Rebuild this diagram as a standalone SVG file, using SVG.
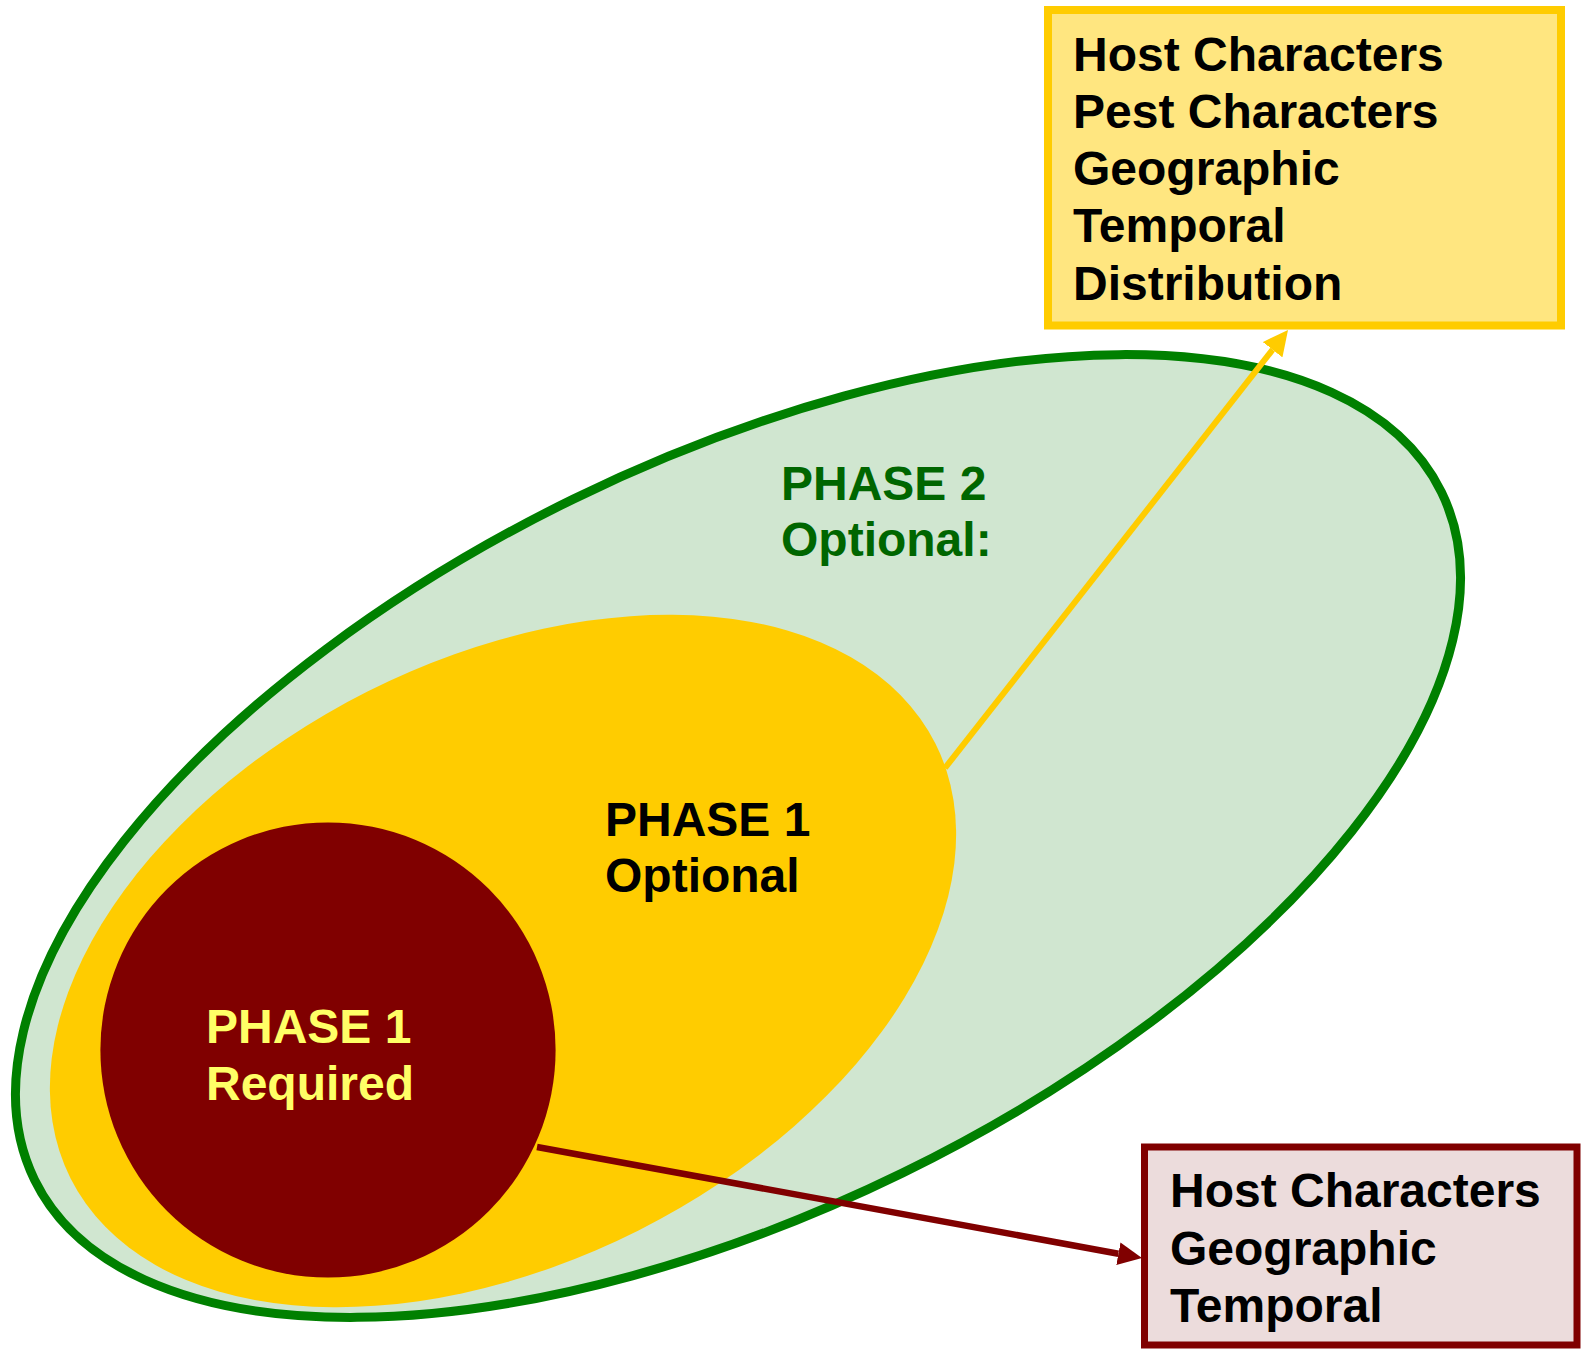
<svg xmlns="http://www.w3.org/2000/svg" width="1590" height="1350" viewBox="0 0 1590 1350">
<style>
.t{font-family:"Liberation Sans",Arial,sans-serif;font-weight:bold;font-size:48px}
.blk{fill:#000}
.grn{fill:#006600}
.ylw{fill:#FFFF66}
</style>
<defs>
<marker id="ahY" markerUnits="userSpaceOnUse" viewBox="0 0 25 25" refX="0" refY="12.5" markerWidth="25" markerHeight="25" orient="auto">
<path d="M0,0 L25,12.5 L0,25 z" fill="#FFCC00"/>
</marker>
<marker id="ahM" markerUnits="userSpaceOnUse" viewBox="0 0 24 23" refX="0" refY="11.5" markerWidth="24" markerHeight="23" orient="auto">
<path d="M0,0 L24,11.5 L0,23 z" fill="#800000"/>
</marker>
</defs>
<g id="phase2">
<ellipse cx="738" cy="836" rx="783" ry="375" transform="rotate(-26.05 738 836)" fill="#D0E6D0" stroke="#008000" stroke-width="9"/>
<text class="t grn" x="781" y="500">PHASE 2</text>
<text class="t grn" x="781" y="556">Optional:</text>
</g>
<g id="phase1opt">
<ellipse cx="503" cy="961" rx="484" ry="301.6" transform="rotate(-26.7 503 961)" fill="#FFCC00"/>
<text class="t blk" x="605" y="836">PHASE 1</text>
<text class="t blk" x="605" y="892">Optional</text>
</g>
<g id="phase1req">
<circle cx="328" cy="1050" r="227.6" fill="#800000"/>
<text class="t ylw" x="206" y="1043">PHASE 1</text>
<text class="t ylw" x="206" y="1100">Required</text>
</g>
<g id="connectors">
<path d="M945,768 L1272.6,349.7" fill="none" stroke="#FFCC00" stroke-width="6" marker-end="url(#ahY)"/>
<path d="M537,1147 L1118.4,1253.7" fill="none" stroke="#800000" stroke-width="6.5" marker-end="url(#ahM)"/>
</g>
<g id="box-phase2">
<rect x="1048" y="10" width="513" height="315.5" fill="#FFE680" stroke="#FFCC00" stroke-width="8"/>
<text class="t blk" x="1073" y="71">Host Characters</text>
<text class="t blk" x="1073" y="128">Pest Characters</text>
<text class="t blk" x="1073" y="185">Geographic</text>
<text class="t blk" x="1073" y="242">Temporal</text>
<text class="t blk" x="1073" y="300">Distribution</text>
</g>
<g id="box-phase1">
<rect x="1144.5" y="1147" width="432.5" height="198" fill="#ECDCDC" stroke="#800000" stroke-width="7"/>
<text class="t blk" x="1170" y="1207">Host Characters</text>
<text class="t blk" x="1170" y="1265">Geographic</text>
<text class="t blk" x="1170" y="1322">Temporal</text>
</g>
</svg>
